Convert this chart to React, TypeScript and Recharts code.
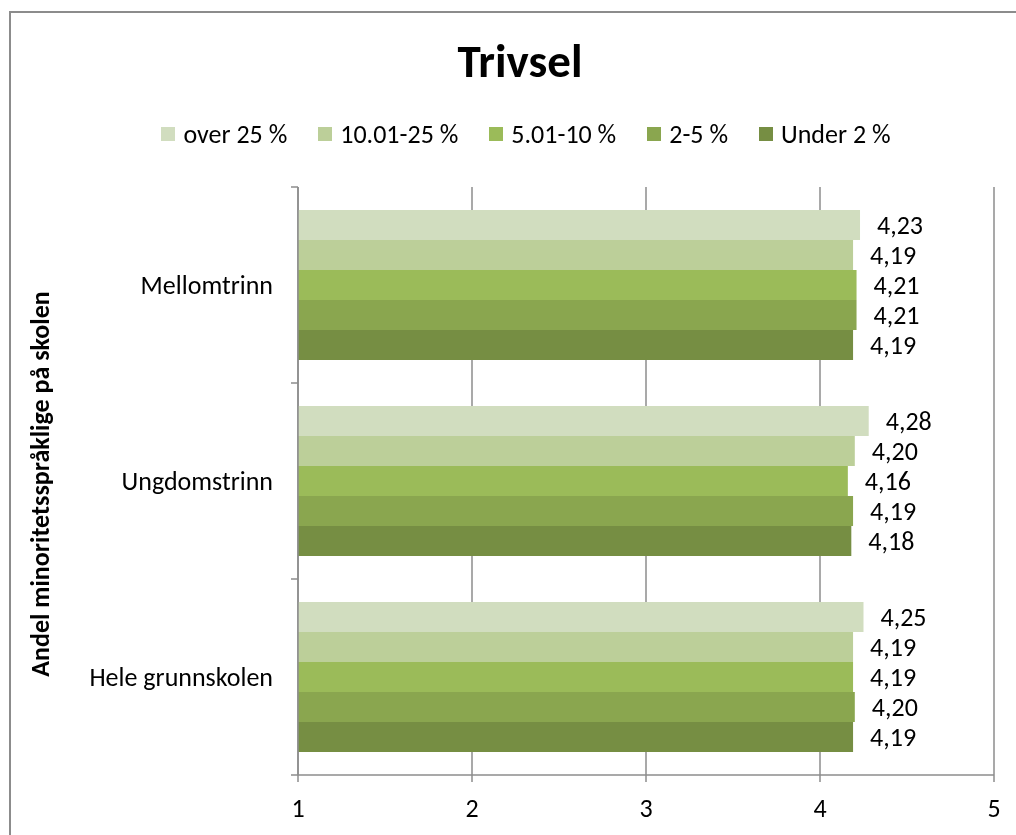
import React from "react";
import { BarChart, Bar, XAxis, YAxis, CartesianGrid, LabelList } from "recharts";

const categories = ["Mellomtrinn", "Ungdomstrinn", "Hele grunnskolen"];
const seriesNames = ["over 25 %", "10.01-25 %", "5.01-10 %", "2-5 %", "Under 2 %"];
const over25 = [4.23, 4.28, 4.25];
const pct10to25 = [4.19, 4.2, 4.19];
const pct5to10 = [4.21, 4.16, 4.19];
const pct2to5 = [4.21, 4.19, 4.2];
const under2 = [4.19, 4.18, 4.19];
const xTicks = [1, 2, 3, 4, 5];

const colors = ["#d1ddbf", "#bccf99", "#9bbb59", "#8aa64f", "#768e43"];
const keys = ["s0", "s1", "s2", "s3", "s4"];
const seriesValues = [over25, pct10to25, pct5to10, pct2to5, under2];

const data = categories.map((name, i) => {
  const row: Record<string, string | number> = { name };
  keys.forEach((k, j) => {
    row[k] = seriesValues[j][i];
  });
  return row;
});

const FONT = "Carlito, Lato, sans-serif";
const GRAY = "#8c8c8c";

const fmt = (v: any) => Number(v).toFixed(2).replace(".", ",");

const CategoryTick = (props: any) => {
  const { x, y, payload, index } = props;
  const half = payload && payload.offset ? payload.offset : 98;
  const axisX = x + 25;
  return (
    <g>
      <text x={x} y={y} textAnchor="end" dominantBaseline="central" fontSize={26} fill="#000" fontFamily={FONT}>
        {payload.value}
      </text>
      <line x1={axisX - 7} x2={axisX} y1={y - half} y2={y - half} stroke={GRAY} strokeWidth={1.5} />
      {index === categories.length - 1 && (
        <line x1={axisX - 7} x2={axisX} y1={y + half} y2={y + half} stroke={GRAY} strokeWidth={1.5} />
      )}
    </g>
  );
};

export default function App() {
  return (
    <div style={{ position: "relative", width: 1000, height: 819, fontFamily: FONT, background: "#fff" }}>
      {/* chart frame, cut off at the right and bottom like the original */}
      <div
        style={{
          position: "fixed",
          left: 9,
          top: 11,
          width: 1100,
          height: 900,
          borderLeft: `2px solid ${GRAY}`,
          borderTop: `2px solid ${GRAY}`,
          pointerEvents: "none",
        }}
      />
      <div
        style={{
          position: "absolute",
          left: 12,
          width: 1000,
          top: 30,
          textAlign: "center",
          fontWeight: 700,
          fontSize: 47,
          lineHeight: "47px",
        }}
      >
        Trivsel
      </div>
      <div
        style={{
          position: "absolute",
          left: 18,
          width: 1000,
          top: 111,
          height: 30,
          display: "flex",
          justifyContent: "center",
          alignItems: "center",
          fontSize: 26,
        }}
      >
        {seriesNames.map((n, i) => (
          <div key={n} style={{ display: "flex", alignItems: "center", marginRight: i < seriesNames.length - 1 ? 31 : 0 }}>
            <span style={{ display: "inline-block", width: 14, height: 14, background: colors[i], marginRight: 8 }} />
            <span>{n}</span>
          </div>
        ))}
      </div>
      <div
        style={{
          position: "absolute",
          left: 32,
          top: 476,
          transform: "translate(-50%, -50%) rotate(-90deg)",
          whiteSpace: "nowrap",
          fontWeight: 700,
          fontSize: 26,
        }}
      >
        Andel minoritetsspråklige på skolen
      </div>
      <BarChart
        width={1000}
        height={819}
        data={data}
        layout="vertical"
        margin={{ top: 179, right: 14, bottom: 0, left: 0 }}
        barCategoryGap={23}
        barGap={0}
      >
        <CartesianGrid horizontal={false} stroke={GRAY} strokeWidth={1.5} />
        <XAxis
          type="number"
          domain={[1, 5]}
          ticks={xTicks}
          allowDataOverflow
          height={52}
          axisLine={{ stroke: GRAY, strokeWidth: 1.5 }}
          tickLine={{ stroke: GRAY, strokeWidth: 1.5 }}
          tickSize={7}
          tickMargin={17}
          tick={{ fill: "#000", fontSize: 26, fontFamily: FONT }}
        />
        <YAxis
          type="category"
          dataKey="name"
          width={290}
          axisLine={{ stroke: GRAY, strokeWidth: 1.5 }}
          tickLine={false}
          tickSize={0}
          tickMargin={25}
          tick={<CategoryTick />}
        />
        {keys.map((k, i) => (
          <Bar key={k} dataKey={k} name={seriesNames[i]} fill={colors[i]} isAnimationActive={false}>
            <LabelList
              dataKey={k}
              position="right"
              offset={17}
              formatter={fmt}
              fill="#000"
              fontSize={26}
              fontFamily={FONT}
            />
          </Bar>
        ))}
      </BarChart>
    </div>
  );
}
